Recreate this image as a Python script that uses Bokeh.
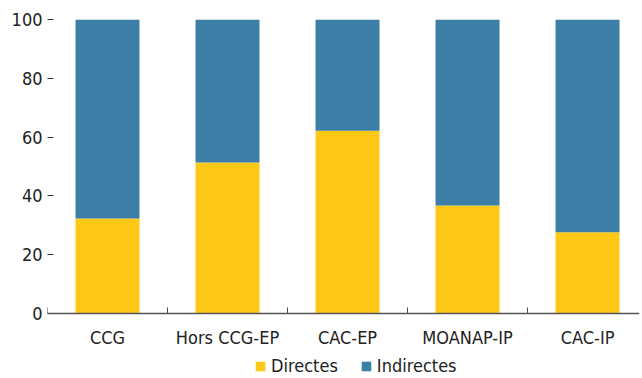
from bokeh.plotting import figure
from bokeh.models import Range1d, FixedTicker, Legend, LegendItem, Span
from bokeh.core.properties import value
from bokeh.embed import file_html
from bokeh.resources import INLINE

categories = ["CCG", "Hors CCG-EP", "CAC-EP", "MOANAP-IP", "CAC-IP"]
directes = [32.3, 51.4, 62.2, 36.7, 27.6]
indirectes = [100 - d for d in directes]
y_ticks = [0, 20, 40, 60, 80, 100]
series_names = ["Directes", "Indirectes"]
colors = ["#FEC817", "#3D7EA6"]

FONT = "DejaVu Sans Condensed"
n = len(categories)
centers = [i + 0.5 for i in range(n)]
bounds = [float(i) for i in range(n)]

PLOT_H = 294      # pixel height of 0..100
FRAME_H = 357     # frame extended below 0 to hold labels and legend
y_min = -100.0 * (FRAME_H - PLOT_H) / PLOT_H

p = figure(frame_width=592, frame_height=FRAME_H, output_backend="svg", toolbar_location=None,
           x_range=Range1d(0, n - 0.067), y_range=Range1d(y_min, 100),
           x_axis_location=None,
           min_border_left=47, min_border_right=2, min_border_top=19, min_border_bottom=0)
p.outline_line_color = None
p.grid.grid_line_color = None
p.background_fill_color = "white"

src = dict(x=centers, Directes=directes, Indirectes=indirectes)
rs = p.vbar_stack(series_names, x="x", width=0.533, color=colors, line_color=None, source=src)

# x axis drawn by hand at y = 0
p.add_layout(Span(location=0, dimension="width", line_color="#555555", line_width=1.3))
p.ray(x=bounds, y=[0] * n, length=6, length_units="screen", angle=90, angle_units="deg",
      line_color="#444444", line_width=1)
p.text(x=centers, y=[0] * n, text=categories, text_align="center", text_baseline="middle",
       y_offset=24, text_font=value(FONT), text_font_size="18px", text_color="#222222")

ya = p.yaxis[0]
ya.ticker = FixedTicker(ticks=y_ticks)
ya.axis_line_color = None
ya.major_tick_in = 6
ya.major_tick_out = 0
ya.major_tick_line_color = "#333333"
ya.minor_tick_line_color = None
ya.major_label_text_font = FONT
ya.major_label_text_font_size = "18px"
ya.major_label_text_color = "#222222"
ya.major_label_standoff = 5

legend = Legend(items=[LegendItem(label=nm, renderers=[r]) for nm, r in zip(series_names, rs)],
                orientation="horizontal", location=(207, 0),
                label_text_font=FONT, label_text_font_size="18px", label_text_color="#222222",
                glyph_width=12, glyph_height=12, label_height=18, spacing=22, label_standoff=5,
                padding=0, margin=0, border_line_color=None, background_fill_alpha=0)
p.add_layout(legend, "center")

open("out.html", "w").write(file_html(p, INLINE))
